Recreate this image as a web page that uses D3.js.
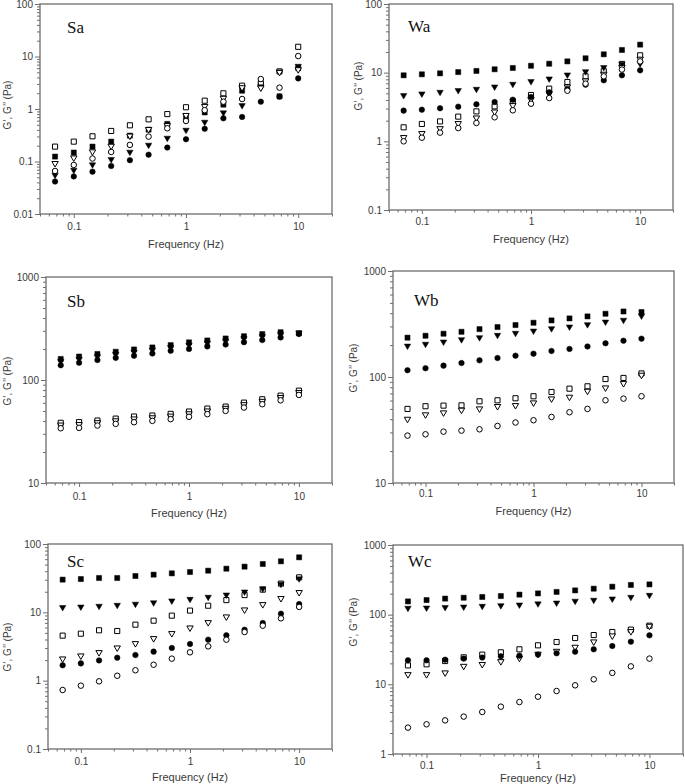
<!DOCTYPE html>
<html><head><meta charset="utf-8">
<script src="https://cdn.jsdelivr.net/npm/d3@7/dist/d3.min.js"></script>
<style>body{margin:0;background:#fff}svg{display:block}</style>
</head><body>
<script>
// ---------- DATA ----------
const freq = [0.0681,0.1,0.1468,0.2154,0.3162,0.4642,0.6813,1,1.468,2.154,3.162,4.642,6.813,10];
const xTickValues = [0.1,1,10];
const xTickLabels = ["0.1","1","10"];
const seriesKeys = ["filledSquare","openSquare","filledTriangle","openTriangle","filledCircle","openCircle"];

// Sa
const saFilledSquare   = [0.124,0.148,0.192,0.239,0.311,0.405,0.52,0.695,0.86,1.21,2.23,2.9,1.74,6.0];
const saOpenSquare     = [0.192,0.239,0.302,0.382,0.489,0.636,0.80,1.08,1.44,1.99,2.78,3.08,5.2,15.3];
const saFilledTriangle = [0.054,0.067,0.085,0.107,0.148,0.201,0.273,0.387,0.55,0.83,1.14,2.6,5.0,6.4];
const saOpenTriangle   = [0.09,0.115,0.15,0.192,0.30,0.40,0.475,0.74,1.1,1.57,2.5,2.47,4.9,5.5];
const saFilledCircle   = [0.0415,0.052,0.064,0.082,0.106,0.135,0.184,0.265,0.42,0.665,0.705,1.38,1.72,3.83];
const saOpenCircle     = [0.066,0.086,0.114,0.152,0.207,0.298,0.429,0.591,0.95,1.38,1.55,3.72,2.55,10.2];
const saYTicks = [0.01,0.1,1,10,100];
const saYTickLabels = ["0.01","0.1","1","10","100"];

// Wa
const waFilledSquare   = [9.15,9.46,9.78,10.2,10.6,11.2,11.7,12.6,13.5,14.6,16.2,18.5,21.4,25.6];
const waOpenSquare     = [1.60,1.79,1.95,2.29,2.73,3.23,3.82,4.73,5.85,7.31,8.84,10.5,13.4,17.9];
const waFilledTriangle = [4.57,4.84,5.11,5.41,5.65,6.11,6.69,7.31,8.0,9.15,10.2,11.7,13.1,13.3];
const waOpenTriangle   = [1.12,1.28,1.51,1.79,2.16,2.64,3.27,4.0,4.89,6.11,7.48,9.35,11.7,15.5];
const waFilledCircle   = [2.80,2.89,3.03,3.2,3.46,3.74,4.04,4.42,5.17,5.78,6.69,7.73,9.15,10.8];
const waOpenCircle     = [1.0,1.13,1.34,1.56,1.85,2.24,2.83,3.53,4.27,5.46,6.92,8.84,11.1,14.6];
const waYTicks = [0.1,1,10,100];
const waYTickLabels = ["0.1","1","10","100"];

// Sb
const sbFilledSquare   = [160,169,179,188,198,207,218,232,242,253,266,279,291,285];
const sbOpenSquare     = [38.4,39.0,40.4,42.2,44.2,45.2,46.9,49.4,52.8,55.2,60.3,65.0,70.5,78.8];
const sbFilledTriangle = [150,158,167,176,185,194,205,216,227,237,250,262,275,283];
const sbOpenTriangle   = [36.2,36.6,38.2,39.8,41.5,42.6,44.2,46.6,49.6,52.6,57.1,61.5,67.0,75.0];
const sbFilledCircle   = [139,147,156,164,172,181,192,200,212,221,233,244,259,280];
const sbOpenCircle     = [34.0,34.3,36.1,37.5,38.9,40.1,41.7,43.9,46.6,50.1,54.0,58.2,63.5,71.6];
const sbYTicks = [10,100,1000];
const sbYTickLabels = ["10","100","1000"];

// Wb
const wbFilledSquare   = [235,245,256,267,283,296,309,325,342,357,373,395,415,410];
const wbOpenSquare     = [50,53,53.7,54,59,60.3,63,65.8,72.2,77.6,81.7,95.7,98,108];
const wbFilledTriangle = [194,202,212,223,233,245,256,269,283,294,309,327,340,373];
const wbOpenTriangle   = [39.6,43.6,45.5,48.2,49.6,52.2,53.3,56.5,61.6,63.9,72.8,78.2,85.9,103];
const wbFilledCircle   = [116,121,128,135.5,143.6,151,159,166,176,184,194,208,220,230];
const wbOpenCircle     = [28.0,28.8,30.5,31.2,32.1,34.5,37.2,39.1,42,46.5,50,60.3,62.5,65.8];
const wbYTicks = [10,100,1000];
const wbYTickLabels = ["10","100","1000"];

// Sc
const scFilledSquare   = [30.1,30.7,31.8,31.8,34.0,35.6,37.2,38.9,40.7,43.5,46.6,51,55.8,63.8];
const scOpenSquare     = [4.56,4.87,5.46,5.33,6.6,7.55,8.94,10.6,12.5,15.1,17.9,21.5,26.3,32.5];
const scFilledTriangle = [11.6,11.8,12.1,12.5,13.0,13.6,14.5,15.3,16.4,17.7,19.6,21.8,25.5,30.5];
const scOpenTriangle   = [2.05,2.27,2.54,2.97,3.44,4.07,4.82,5.83,6.98,8.45,10.7,12.8,15.7,19.2];
const scFilledCircle   = [1.68,1.79,1.98,2.17,2.37,2.66,3.01,3.44,3.98,4.61,5.57,6.98,9.56,13.2];
const scOpenCircle     = [0.73,0.845,0.978,1.18,1.42,1.71,2.1,2.6,3.18,3.98,5.15,6.38,8.17,12.0];
const scYTicks = [0.1,1,10,100];
const scYTickLabels = ["0.1","1","10","100"];

// Wc
const wcFilledSquare   = [155,162,170,175,179.5,185,194,202,212,223,236,252,267,272];
const wcOpenSquare     = [18.7,19.4,21.6,24.4,26.7,28.8,31.8,36.3,40.5,46.2,51,56.4,61,69.5];
const wcFilledTriangle = [122,123,125,127,130,133,136,141,145,154,159,166,175,187];
const wcOpenTriangle   = [13.6,13.6,14.4,17.9,19,20.9,23.4,26.7,29.4,33.6,40.1,48.9,56.4,67.3];
const wcFilledCircle   = [22.1,22.1,22.6,23.4,24.2,25.2,25.8,26.7,27.9,29.4,31.8,35.5,41,50.5];
const wcOpenCircle     = [2.39,2.67,3.04,3.44,4.01,4.78,5.57,6.65,8.02,9.68,11.8,14.6,18.1,23.4];
const wcYTicks = [1,10,100,1000];
const wcYTickLabels = ["1","10","100","1000"];

// ---------- LAYOUT ----------
const panels = [
  {name:"Sa", l:40,  r:332, t:4,   b:214, yTicks:saYTicks, yLabels:saYTickLabels,
   series:[saFilledSquare,saOpenSquare,saFilledTriangle,saOpenTriangle,saFilledCircle,saOpenCircle],
   lab:[67,33], yt:[7,105], xt:244, xl:13},
  {name:"Wa", l:389, r:673, t:4,   b:210, yTicks:waYTicks, yLabels:waYTickLabels,
   series:[waFilledSquare,waOpenSquare,waFilledTriangle,waOpenTriangle,waFilledCircle,waOpenCircle],
   lab:[408,32], yt:[358,86], xt:239, xl:12},
  {name:"Sb", l:46,  r:332, t:277, b:483, yTicks:sbYTicks, yLabels:sbYTickLabels,
   series:[sbFilledSquare,sbOpenSquare,sbFilledTriangle,sbOpenTriangle,sbFilledCircle,sbOpenCircle],
   lab:[67,307], yt:[7,381], xt:513, xl:14},
  {name:"Wb", l:393, r:674, t:271, b:483, yTicks:wbYTicks, yLabels:wbYTickLabels,
   series:[wbFilledSquare,wbOpenSquare,wbFilledTriangle,wbOpenTriangle,wbFilledCircle,wbOpenCircle],
   lab:[414,306], yt:[353,368], xt:511, xl:11},
  {name:"Sc", l:48,  r:332, t:544, b:749, yTicks:scYTicks, yLabels:scYTickLabels,
   series:[scFilledSquare,scOpenSquare,scFilledTriangle,scOpenTriangle,scFilledCircle,scOpenCircle],
   lab:[67,567], yt:[7,647], xt:777, xl:13},
  {name:"Wc", l:393, r:683, t:545, b:754, yTicks:wcYTicks, yLabels:wcYTickLabels,
   series:[wcFilledSquare,wcOpenSquare,wcFilledTriangle,wcOpenTriangle,wcFilledCircle,wcOpenCircle],
   lab:[408,567], yt:[353,622], xt:778, xl:12}
];

const W = 685, H = 784;
const svg = d3.select("body").append("svg").attr("width", W).attr("height", H)
  .style("font-family", "Liberation Sans, Arial, sans-serif");

const axisColor = "#6e6e6e";
const textColor = "#3a3a3a";

function minorTicks(lo, hi) {
  const out = [];
  for (let e = Math.floor(Math.log10(lo)) - 1; e <= Math.ceil(Math.log10(hi)); e++) {
    for (let m = 1; m <= 9; m++) {
      const v = m * Math.pow(10, e);
      if (v >= lo * 0.999 && v <= hi * 1.001 && m !== 1) out.push(v);
    }
  }
  return out;
}

const sym = {
  square: d3.symbol().type(d3.symbolSquare).size(26)(),
  circle: d3.symbol().type(d3.symbolCircle).size(24)(),
  triDown: "M-3.2,-2.4L3.2,-2.4L0,3.1Z"
};
const styles = [
  {shape: "square", fill: "#000"},
  {shape: "square", fill: "#fff"},
  {shape: "triDown", fill: "#000"},
  {shape: "triDown", fill: "#fff"},
  {shape: "circle", fill: "#000"},
  {shape: "circle", fill: "#fff"}
];

panels.forEach(p => {
  const x = d3.scaleLog().domain([0.05, 20]).range([p.l, p.r]);
  const yDom = [p.yTicks[0], p.yTicks[p.yTicks.length - 1]];
  const y = d3.scaleLog().domain(yDom).range([p.b, p.t]);
  const g = svg.append("g");

  const gxm = g.append("g").attr("transform", `translate(0,${p.b})`)
    .call(d3.axisBottom(x).tickValues(minorTicks(0.05, 20)).tickSize(2.5).tickFormat(""));
  const gx = g.append("g").attr("transform", `translate(0,${p.b})`)
    .call(d3.axisBottom(x).tickValues(xTickValues).tickSize(4).tickPadding(p.xl - 8)
      .tickFormat((d, i) => xTickLabels[i]));
  const gym = g.append("g").attr("transform", `translate(${p.l},0)`)
    .call(d3.axisLeft(y).tickValues(minorTicks(yDom[0], yDom[1])).tickSize(3).tickFormat(""));
  const gy = g.append("g").attr("transform", `translate(${p.l},0)`)
    .call(d3.axisLeft(y).tickValues(p.yTicks).tickSize(5).tickPadding(2)
      .tickFormat((d, i) => p.yLabels[i]));

  [gxm, gx, gym, gy].forEach(a => {
    a.select(".domain").remove();
    a.selectAll("line").attr("stroke", axisColor).attr("stroke-width", 1);
    a.selectAll("text").attr("fill", textColor).style("font-size", "10px")
      .style("font-family", "Liberation Sans, Arial, sans-serif");
  });

  g.append("rect").attr("x", p.l).attr("y", p.t)
    .attr("width", p.r - p.l).attr("height", p.b - p.t)
    .attr("fill", "none").attr("stroke", axisColor).attr("stroke-width", 1.3);

  p.series.forEach((vals, si) => {
    const st = styles[si];
    g.append("g").selectAll("path").data(vals).join("path")
      .attr("d", sym[st.shape])
      .attr("transform", (v, i) => `translate(${x(freq[i])},${y(v)})`)
      .attr("fill", st.fill)
      .attr("stroke", "#000")
      .attr("stroke-width", st.fill === "#fff" ? 1 : 0.5);
  });

  g.append("text").attr("x", p.lab[0]).attr("y", p.lab[1]).text(p.name)
    .style("font-family", "Liberation Serif, Times New Roman, serif")
    .style("font-size", "17px").attr("fill", "#111");

  g.append("text").attr("x", (p.l + p.r) / 2).attr("y", p.xt + 4)
    .attr("text-anchor", "middle").text("Frequency (Hz)")
    .style("font-size", "11px").attr("fill", textColor);

  g.append("text").attr("transform", `translate(${p.yt[0] + 4},${p.yt[1]}) rotate(-90)`)
    .attr("text-anchor", "middle").text("G’, G’’ (Pa)")
    .style("font-size", "10px").attr("fill", textColor);
});
</script>
</body></html>
